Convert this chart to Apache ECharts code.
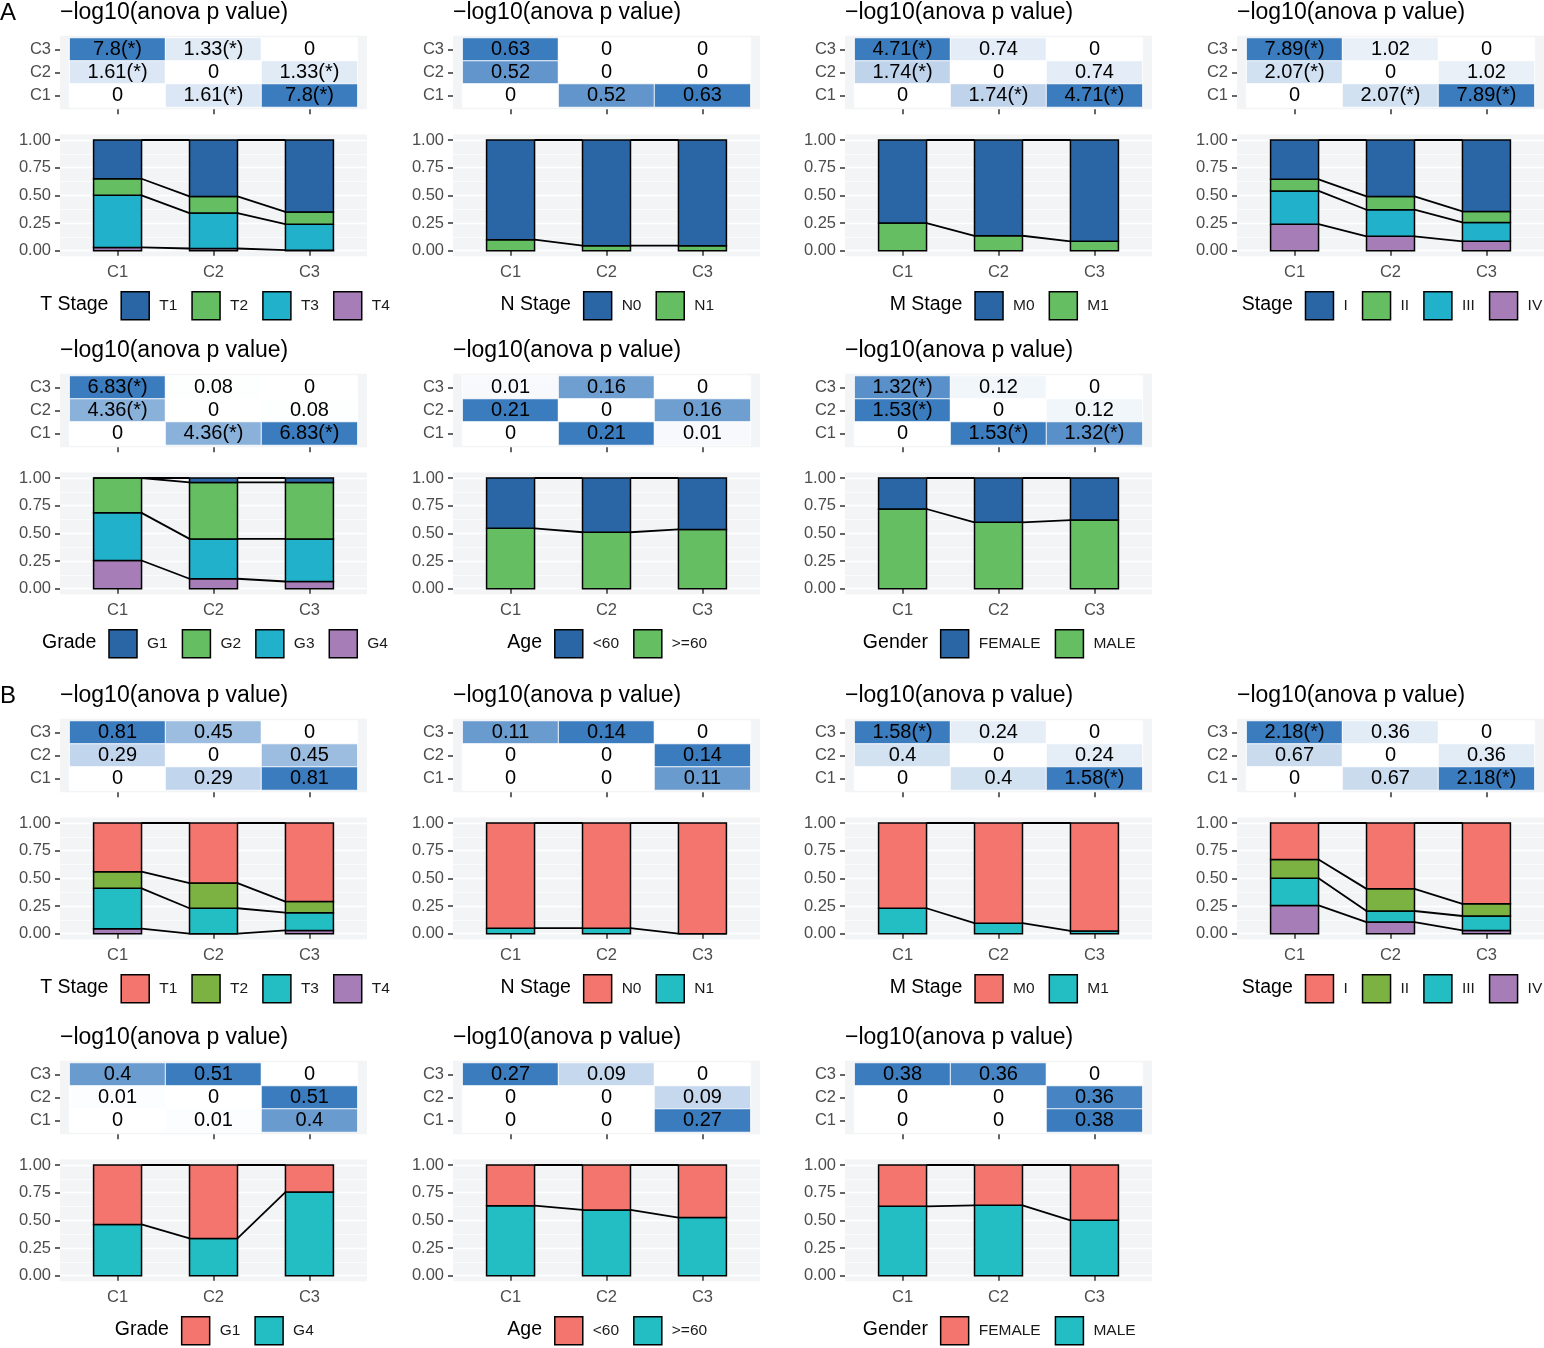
<!DOCTYPE html>
<html>
<head>
<meta charset="utf-8">
<title>-log10(anova p value) panels</title>
<script src="https://cdn.jsdelivr.net/npm/echarts@6/dist/echarts.min.js"></script>
<style>
    html, body { margin: 0; padding: 0; background: #fff; }
    #main { width: 1544px; height: 1348px; }
</style>
</head>
<body>
<div id="main"></div>
<script>
var clusters = ['C1', 'C2', 'C3'];

// heatmap rows from top to bottom: C3, C2, C1 ; columns C1, C2, C3
// proportions: one array per level (legend order), values for C1, C2, C3
var aTStageLevels = ['T1', 'T2', 'T3', 'T4'];
var aTStageHeat = [[7.8, 1.33, 0], [1.61, 0, 1.33], [0, 1.61, 7.8]];
var aTStageProps = [[0.35, 0.51, 0.65], [0.15, 0.15, 0.11], [0.47, 0.32, 0.235], [0.03, 0.02, 0.005]];

var aNStageLevels = ['N0', 'N1'];
var aNStageHeat = [[0.63, 0, 0], [0.52, 0, 0], [0, 0.52, 0.63]];
var aNStageProps = [[0.90, 0.955, 0.955], [0.10, 0.045, 0.045]];

var aMStageLevels = ['M0', 'M1'];
var aMStageHeat = [[4.71, 0.74, 0], [1.74, 0, 0.74], [0, 1.74, 4.71]];
var aMStageProps = [[0.75, 0.865, 0.915], [0.25, 0.135, 0.085]];

var aStageLevels = ['I', 'II', 'III', 'IV'];
var aStageHeat = [[7.89, 1.02, 0], [2.07, 0, 1.02], [0, 2.07, 7.89]];
var aStageProps = [[0.355, 0.51, 0.645], [0.105, 0.12, 0.10], [0.30, 0.24, 0.17], [0.24, 0.13, 0.085]];

var aGradeLevels = ['G1', 'G2', 'G3', 'G4'];
var aGradeHeat = [[6.83, 0.08, 0], [4.36, 0, 0.08], [0, 4.36, 6.83]];
var aGradeProps = [[0, 0.04, 0.04], [0.315, 0.51, 0.51], [0.43, 0.36, 0.385], [0.255, 0.09, 0.065]];

var aAgeLevels = ['<60', '>=60'];
var aAgeHeat = [[0.01, 0.16, 0], [0.21, 0, 0.16], [0, 0.21, 0.01]];
var aAgeProps = [[0.455, 0.49, 0.465], [0.545, 0.51, 0.535]];

var aGenderLevels = ['FEMALE', 'MALE'];
var aGenderHeat = [[1.32, 0.12, 0], [1.53, 0, 0.12], [0, 1.53, 1.32]];
var aGenderProps = [[0.28, 0.40, 0.38], [0.72, 0.60, 0.62]];

var bTStageLevels = ['T1', 'T2', 'T3', 'T4'];
var bTStageHeat = [[0.81, 0.45, 0], [0.29, 0, 0.45], [0, 0.29, 0.81]];
var bTStageProps = [[0.44, 0.543, 0.71], [0.15, 0.227, 0.10], [0.365, 0.23, 0.16], [0.045, 0, 0.03]];

var bNStageLevels = ['N0', 'N1'];
var bNStageHeat = [[0.11, 0.14, 0], [0, 0, 0.14], [0, 0, 0.11]];
var bNStageProps = [[0.95, 0.95, 1.0], [0.05, 0.05, 0]];

var bMStageLevels = ['M0', 'M1'];
var bMStageHeat = [[1.58, 0.24, 0], [0.4, 0, 0.24], [0, 0.4, 1.58]];
var bMStageProps = [[0.77, 0.905, 0.975], [0.23, 0.095, 0.025]];

var bStageLevels = ['I', 'II', 'III', 'IV'];
var bStageHeat = [[2.18, 0.36, 0], [0.67, 0, 0.36], [0, 0.67, 2.18]];
var bStageProps = [[0.33, 0.595, 0.73], [0.17, 0.20, 0.11], [0.245, 0.10, 0.13], [0.255, 0.105, 0.03]];

var bGradeLevels = ['G1', 'G4'];
var bGradeHeat = [[0.4, 0.51, 0], [0.01, 0, 0.51], [0, 0.01, 0.4]];
var bGradeProps = [[0.537, 0.663, 0.245], [0.463, 0.337, 0.755]];

var bAgeLevels = ['<60', '>=60'];
var bAgeHeat = [[0.27, 0.09, 0], [0, 0, 0.09], [0, 0, 0.27]];
var bAgeProps = [[0.367, 0.406, 0.475], [0.633, 0.594, 0.525]];

var bGenderLevels = ['FEMALE', 'MALE'];
var bGenderHeat = [[0.38, 0.36, 0], [0, 0, 0.36], [0, 0, 0.38]];
var bGenderProps = [[0.373, 0.364, 0.50], [0.627, 0.636, 0.50]];

var paletteA4 = ['#2a66a6', '#66be63', '#21b1ca', '#a67db7'];
var paletteA2 = ['#2a66a6', '#66be63'];
var paletteB4 = ['#f3756d', '#7bb241', '#23bec3', '#a67db7'];
var paletteB2 = ['#f3756d', '#23bec3'];

var FONT = '"Liberation Sans", Arial, sans-serif';
var BG = '#f3f4f6';
var SIG = -Math.log10(0.05);
var colX = [0, 393, 785, 1177];
var rowY = [0, 338, 683, 1025];

var panels = [
    {name: 'T Stage', levels: aTStageLevels, heat: aTStageHeat, props: aTStageProps, pal: paletteA4, col: 0, row: 0},
    {name: 'N Stage', levels: aNStageLevels, heat: aNStageHeat, props: aNStageProps, pal: paletteA2, col: 1, row: 0},
    {name: 'M Stage', levels: aMStageLevels, heat: aMStageHeat, props: aMStageProps, pal: paletteA2, col: 2, row: 0},
    {name: 'Stage', levels: aStageLevels, heat: aStageHeat, props: aStageProps, pal: paletteA4, col: 3, row: 0},
    {name: 'Grade', levels: aGradeLevels, heat: aGradeHeat, props: aGradeProps, pal: paletteA4, col: 0, row: 1},
    {name: 'Age', levels: aAgeLevels, heat: aAgeHeat, props: aAgeProps, pal: paletteA2, col: 1, row: 1},
    {name: 'Gender', levels: aGenderLevels, heat: aGenderHeat, props: aGenderProps, pal: paletteA2, col: 2, row: 1},
    {name: 'T Stage', levels: bTStageLevels, heat: bTStageHeat, props: bTStageProps, pal: paletteB4, col: 0, row: 2},
    {name: 'N Stage', levels: bNStageLevels, heat: bNStageHeat, props: bNStageProps, pal: paletteB2, col: 1, row: 2},
    {name: 'M Stage', levels: bMStageLevels, heat: bMStageHeat, props: bMStageProps, pal: paletteB2, col: 2, row: 2},
    {name: 'Stage', levels: bStageLevels, heat: bStageHeat, props: bStageProps, pal: paletteB4, col: 3, row: 2},
    {name: 'Grade', levels: bGradeLevels, heat: bGradeHeat, props: bGradeProps, pal: paletteB2, col: 0, row: 3},
    {name: 'Age', levels: bAgeLevels, heat: bAgeHeat, props: bAgeProps, pal: paletteB2, col: 1, row: 3},
    {name: 'Gender', levels: bGenderLevels, heat: bGenderHeat, props: bGenderProps, pal: paletteB2, col: 2, row: 3}
];

var measureCtx = document.createElement('canvas').getContext('2d');
function textWidth(str, size) {
    measureCtx.font = size + 'px "Liberation Sans"';
    return measureCtx.measureText(str).width;
}

function fmtHeat(v) {
    return v > SIG ? v + '(*)' : String(v);
}

// panel geometry (ggplot-like: discrete range 0.4..3.6)
var PANEL_W = 307;
var UNIT = PANEL_W / 3.2;
var HALF_BAR = 0.25;
var AXIS_FS = 16.5;
var TICK = {show: true, length: 5, lineStyle: {color: '#333', width: 1.5}};

var option = {
    animation: false,
    backgroundColor: '#fff',
    title: [
        {text: 'A', left: 0, top: 1, padding: 0, textStyle: {fontSize: 24, fontWeight: 'normal', color: '#000', fontFamily: FONT}},
        {text: 'B', left: 0, top: 684, padding: 0, textStyle: {fontSize: 24, fontWeight: 'normal', color: '#000', fontFamily: FONT}}
    ],
    legend: [],
    grid: [],
    xAxis: [],
    yAxis: [],
    visualMap: [],
    series: [],
    graphic: []
};

// one stacked segment: value = [x, bottom, top]
function renderBar(params, api) {
    var x = api.value(0);
    var a = api.coord([x - HALF_BAR, api.value(2)]);
    var b = api.coord([x + HALF_BAR, api.value(1)]);
    return {
        type: 'rect',
        shape: {x: a[0], y: a[1], width: b[0] - a[0], height: b[1] - a[1]},
        style: api.style()
    };
}

// joining line: value = [x of left bar, level at left, level at right]
function renderLink(params, api) {
    var x = api.value(0);
    var p1 = api.coord([x + HALF_BAR, api.value(1)]);
    var p2 = api.coord([x + 1 - HALF_BAR, api.value(2)]);
    return {
        type: 'line',
        shape: {x1: p1[0], y1: p1[1], x2: p2[0], y2: p2[1]},
        style: {stroke: '#000', lineWidth: 1.8}
    };
}

panels.forEach(function (p, k) {
    var ox = colX[p.col];
    var oy = rowY[p.row];

    option.title.push({
        text: '\u2212log10(anova p value)', left: ox + 60, top: oy + 1.5, padding: 0,
        textStyle: {fontSize: 23, fontWeight: 'normal', color: '#000', fontFamily: FONT}
    });

    // backgrounds
    option.graphic.push({type: 'rect', silent: true, z: -10,
        shape: {x: ox + 60, y: oy + 35.7, width: PANEL_W, height: 73.6}, style: {fill: BG}});
    option.graphic.push({type: 'rect', silent: true, z: -10,
        shape: {x: ox + 60, y: oy + 134.5, width: PANEL_W, height: 121.8}, style: {fill: BG}});

    // heatmap
    var gi = option.grid.length;
    option.grid.push({left: ox + 60 + 0.1 * UNIT, top: oy + 38, width: 3 * UNIT, height: 69});
    option.xAxis.push({
        gridIndex: gi, type: 'category', data: clusters, offset: 2.3,
        axisLine: {show: false}, axisLabel: {show: false}, splitLine: {show: false},
        axisTick: echarts.util.merge({alignWithLabel: true, interval: 0}, TICK)
    });
    option.yAxis.push({
        gridIndex: gi, type: 'category', data: clusters, offset: 0.1 * UNIT,
        axisLine: {show: false}, splitLine: {show: false},
        axisTick: echarts.util.merge({alignWithLabel: true, interval: 0}, TICK),
        axisLabel: {fontSize: AXIS_FS, color: '#4d4d4d', margin: 9, fontFamily: FONT}
    });
    var heatData = [];
    var maxV = 0;
    p.heat.forEach(function (row, r) {
        row.forEach(function (v, c) {
            heatData.push([c, 2 - r, v]);
            if (v > maxV) maxV = v;
        });
    });
    var si = option.series.length;
    option.series.push({
        type: 'heatmap', xAxisIndex: gi, yAxisIndex: gi, data: heatData,
        itemStyle: {borderColor: 'rgba(255,255,255,0.9)', borderWidth: 1},
        label: {
            show: true, fontSize: 20, color: '#000', fontFamily: FONT,
            formatter: function (d) { return fmtHeat(d.value[2]); }
        },
        emphasis: {disabled: true}
    });
    option.visualMap.push({
        type: 'continuous', show: false, seriesIndex: si, dimension: 2, min: 0, max: maxV,
        inRange: {color: ['#ffffff', '#a8c5e4', '#3b7cbf']}
    });

    // stacked proportions
    var bi = option.grid.length;
    option.grid.push({left: ox + 60, top: oy + 140, width: PANEL_W, height: 110.7});
    option.xAxis.push({
        gridIndex: bi, type: 'value', min: 0.4, max: 3.6, offset: 5.5,
        axisLine: {show: false}, splitLine: {show: false},
        axisTick: echarts.util.merge({customValues: [1, 2, 3]}, TICK),
        axisLabel: {
            customValues: [1, 2, 3], fontSize: AXIS_FS, color: '#4d4d4d', margin: 8, fontFamily: FONT,
            formatter: function (v) { return clusters[Math.round(v) - 1]; }
        }
    });
    option.yAxis.push({
        gridIndex: bi, type: 'value', min: 0, max: 1, interval: 0.25,
        axisLine: {show: false},
        axisTick: echarts.util.merge({}, TICK),
        axisLabel: {
            fontSize: AXIS_FS, color: '#4d4d4d', margin: 9, fontFamily: FONT,
            formatter: function (v) { return v.toFixed(2); }
        },
        splitLine: {lineStyle: {color: '#ffffff', width: 1.3}},
        minorTick: {show: false, splitNumber: 2},
        minorSplitLine: {show: true, lineStyle: {color: '#ffffff', width: 0.6}}
    });

    var n = p.levels.length;
    // cumulative top of each level, last level sits at the bottom
    var tops = p.levels.map(function (l, lv) {
        return clusters.map(function (c, i) {
            var s = 0;
            for (var m = lv; m < n; m++) s += p.props[m][i];
            return s;
        });
    });
    for (var j = n - 1; j >= 0; j--) {
        option.series.push({
            type: 'custom', name: k + ':' + p.levels[j], xAxisIndex: bi, yAxisIndex: bi,
            renderItem: renderBar,
            encode: {x: 0, y: [1, 2]},
            data: p.props[j].map(function (v, i) { return [i + 1, tops[j][i] - v, tops[j][i]]; }),
            itemStyle: {color: p.pal[j], borderColor: '#000', borderWidth: 1.5},
            emphasis: {disabled: true}
        });
    }

    // lines joining the top of each level between neighbouring bars
    var links = [];
    tops.forEach(function (t) {
        for (var i = 0; i < clusters.length - 1; i++) {
            links.push([i + 1, t[i], t[i + 1]]);
        }
    });
    option.series.push({
        type: 'custom', xAxisIndex: bi, yAxisIndex: bi, silent: true, z: 5,
        renderItem: renderLink, encode: {x: 0, y: [1, 2]}, data: links
    });

    // legend with its title, centred under the panel
    var titleSize = 19.5;
    var labelSize = 15.5;
    var titleW = textWidth(p.name, titleSize);
    var itemsW = 0;
    p.levels.forEach(function (l, idx) {
        itemsW += 28 + 10 + textWidth(l, labelSize) + (idx > 0 ? 14 : 0);
    });
    var total = titleW + 12 + itemsW;
    var start = ox + 60 + PANEL_W / 2 - total / 2;
    option.title.push({
        text: p.name, left: start, top: oy + 305 - titleSize / 2 - 1, padding: 0,
        textStyle: {fontSize: titleSize, fontWeight: 'normal', color: '#000', fontFamily: FONT}
    });
    option.legend.push({
        left: start + titleW + 12, top: oy + 291, orient: 'horizontal', padding: 0,
        itemWidth: 28, itemHeight: 28, itemGap: 14, selectedMode: false, icon: 'rect',
        data: p.levels.map(function (l) { return k + ':' + l; }),
        formatter: function (name) { return name.split(':')[1]; },
        itemStyle: {borderColor: '#000', borderWidth: 1.5},
        textStyle: {fontSize: labelSize, color: '#1a1a1a', fontFamily: FONT, padding: [0, 0, 0, 5]}
    });
});

var chart = echarts.init(document.getElementById('main'));
chart.setOption(option);
</script>
</body>
</html>
